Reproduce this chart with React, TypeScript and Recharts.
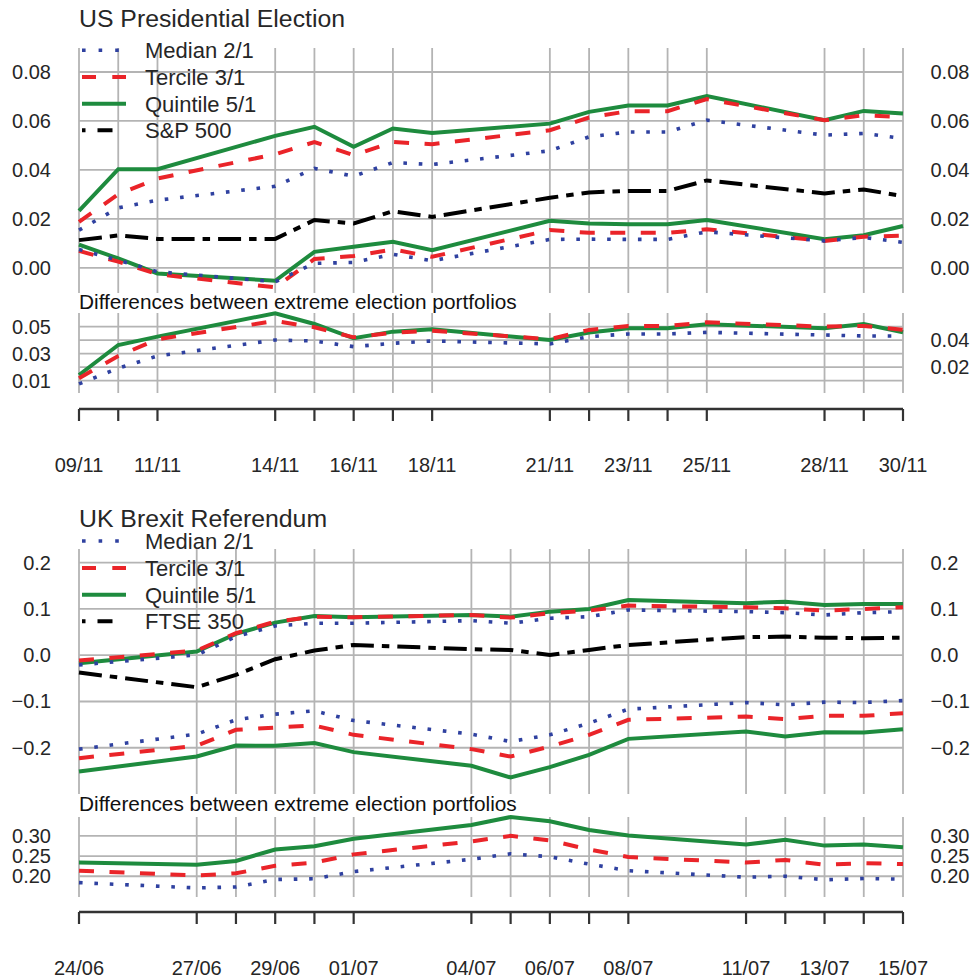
import React from 'react';
import { LineChart, Line, XAxis, YAxis, CartesianGrid } from 'recharts';

const FONT = '"Liberation Sans", Arial, Helvetica, sans-serif';
const TEXT = '#262626';
const GRID = '#b4b4b4';

// ---------- US Presidential Election (Nov 2016) ----------
// x = calendar days after 09/11, one entry per trading session
const usDays = [0, 1, 2, 5, 6, 7, 8, 9, 12, 13, 14, 15, 16, 19, 20, 21];
const usLabelDays = [0, 2, 5, 7, 9, 12, 14, 16, 19, 21];
const usLabels = ['09/11', '11/11', '14/11', '16/11', '18/11', '21/11', '23/11', '25/11', '28/11', '30/11'];

const usMedianHigh = [0.0154, 0.0245, 0.0276, 0.0333, 0.0406, 0.0374, 0.043, 0.0422, 0.0478, 0.0535, 0.0555, 0.0555, 0.0603, 0.0542, 0.0549, 0.0528];
const usMedianLow = [0.0075, 0.0031, -0.0016, -0.0057, 0.0018, 0.0022, 0.0055, 0.0029, 0.0116, 0.0117, 0.0116, 0.0116, 0.0147, 0.011, 0.0124, 0.0104];
const usTercileHigh = [0.0188, 0.03, 0.0365, 0.0464, 0.0514, 0.046, 0.0514, 0.0505, 0.0562, 0.0614, 0.064, 0.064, 0.0689, 0.0603, 0.0623, 0.0616];
const usTercileLow = [0.0069, 0.0025, -0.0026, -0.008, 0.0036, 0.0048, 0.0075, 0.0045, 0.0154, 0.0143, 0.0143, 0.0143, 0.0157, 0.011, 0.0127, 0.0131];
const usQuintileHigh = [0.0233, 0.0403, 0.0403, 0.0539, 0.0576, 0.0494, 0.0569, 0.0551, 0.0589, 0.0637, 0.0663, 0.0663, 0.0702, 0.0603, 0.0641, 0.063];
const usQuintileLow = [0.0095, 0.0038, -0.0023, -0.0053, 0.0065, 0.0086, 0.0106, 0.0072, 0.0192, 0.0181, 0.0178, 0.0178, 0.0195, 0.0117, 0.0133, 0.0171];
const usSP500 = [0.0113, 0.0132, 0.0118, 0.0118, 0.0195, 0.0181, 0.0231, 0.0208, 0.0286, 0.0308, 0.0314, 0.0314, 0.0357, 0.0304, 0.032, 0.0293];

const usDiffMedian = [0.0076, 0.0192, 0.0283, 0.0401, 0.0394, 0.0352, 0.0377, 0.0394, 0.0372, 0.0426, 0.0446, 0.0446, 0.0458, 0.0438, 0.0431, 0.0431];
const usDiffTercile = [0.0118, 0.0283, 0.0407, 0.0542, 0.0495, 0.0421, 0.0456, 0.047, 0.0407, 0.0476, 0.0505, 0.0505, 0.0532, 0.05, 0.0505, 0.0476];
const usDiffQuintile = [0.0142, 0.0364, 0.0426, 0.0599, 0.052, 0.0414, 0.0463, 0.048, 0.0401, 0.0456, 0.0488, 0.0488, 0.0518, 0.0488, 0.052, 0.0458];

const usMainTicks = [0, 0.02, 0.04, 0.06, 0.08];
const usDiffLeftTicks = [0.01, 0.03, 0.05];
const usDiffRightTicks = [0.02, 0.04];
const usDiffGrid = [0.01, 0.02, 0.03, 0.04, 0.05];

// ---------- UK Brexit Referendum (Jun/Jul 2016) ----------
// x = calendar days after 24/06
const ukDays = [0, 3, 4, 5, 6, 7, 10, 11, 12, 13, 14, 17, 18, 19, 20, 21];
const ukLabelDays = [0, 3, 5, 7, 10, 12, 14, 17, 19, 21];
const ukLabels = ['24/06', '27/06', '29/06', '01/07', '04/07', '06/07', '08/07', '11/07', '13/07', '15/07'];

const ukMedianHigh = [-0.021, 0.0006, 0.0402, 0.0633, 0.0691, 0.0691, 0.0748, 0.0691, 0.0799, 0.0834, 0.0978, 0.0942, 0.092, 0.087, 0.092, 0.0942];
const ukMedianLow = [-0.203, -0.1706, -0.1397, -0.1274, -0.1203, -0.1412, -0.1706, -0.1866, -0.1721, -0.1469, -0.1166, -0.1023, -0.1073, -0.1015, -0.1023, -0.098];
const ukTercileHigh = [-0.0116, 0.01, 0.0475, 0.0726, 0.0834, 0.082, 0.087, 0.0813, 0.0907, 0.0964, 0.1072, 0.1036, 0.1015, 0.0964, 0.1, 0.1036];
const ukTercileLow = [-0.2225, -0.1959, -0.1613, -0.1564, -0.152, -0.1721, -0.203, -0.219, -0.1974, -0.1721, -0.1397, -0.1326, -0.1382, -0.1311, -0.1311, -0.1253];
const ukQuintileHigh = [-0.0173, 0.0078, 0.046, 0.0704, 0.0849, 0.082, 0.087, 0.0834, 0.0942, 0.1, 0.1194, 0.1123, 0.1158, 0.1086, 0.1108, 0.1108];
const ukQuintileLow = [-0.2514, -0.219, -0.1952, -0.1959, -0.19, -0.2095, -0.2391, -0.2643, -0.2419, -0.2153, -0.1808, -0.165, -0.1758, -0.1663, -0.1672, -0.1598];
const ukFTSE350 = [-0.0375, -0.0691, -0.0425, -0.0086, 0.01, 0.0222, 0.013, 0.0114, 0.0006, 0.0114, 0.0222, 0.0389, 0.0402, 0.038, 0.0367, 0.038];

const ukDiffMedian = [0.1841, 0.1711, 0.1734, 0.192, 0.1937, 0.2114, 0.242, 0.2556, 0.2483, 0.23, 0.2138, 0.1976, 0.2, 0.1913, 0.1944, 0.1928];
const ukDiffTercile = [0.2138, 0.2017, 0.2072, 0.2258, 0.2338, 0.2541, 0.2862, 0.3, 0.2886, 0.2662, 0.2476, 0.2338, 0.2403, 0.2283, 0.2324, 0.23];
const ukDiffQuintile = [0.2338, 0.2283, 0.2379, 0.2662, 0.2742, 0.2928, 0.3266, 0.3466, 0.3362, 0.3145, 0.3007, 0.2783, 0.2903, 0.2758, 0.2783, 0.2717];

const ukMainTicks = [-0.2, -0.1, 0, 0.1, 0.2];
const ukDiffTicks = [0.2, 0.25, 0.3];

// ---------- line styles ----------
type Style = { stroke: string; width: number; dash?: string; legendDash?: string };
const MEDIAN: Style = { stroke: '#2f41a0', width: 3.6, dash: '3.6 11.8', legendDash: '3.6 13' };
const TERCILE: Style = { stroke: '#ea2429', width: 4, dash: '15 15.5', legendDash: '14 16.3' };
const QUINTILE: Style = { stroke: '#1e8b3e', width: 4 };
const INDEX: Style = { stroke: '#000000', width: 4, dash: '23 8 7.5 8', legendDash: '3.5 12 15 100' };

const build = (days: number[], cols: Record<string, number[]>) =>
  days.map((d, i) => {
    const row: Record<string, number> = { day: d };
    Object.keys(cols).forEach((k) => {
      row[k] = cols[k][i];
    });
    return row;
  });

const usMainData = build(usDays, {
  mh: usMedianHigh, ml: usMedianLow, th: usTercileHigh, tl: usTercileLow,
  qh: usQuintileHigh, ql: usQuintileLow, idx: usSP500,
});
const usDiffData = build(usDays, { m: usDiffMedian, t: usDiffTercile, q: usDiffQuintile });
const ukMainData = build(ukDays, {
  mh: ukMedianHigh, ml: ukMedianLow, th: ukTercileHigh, tl: ukTercileLow,
  qh: ukQuintileHigh, ql: ukQuintileLow, idx: ukFTSE350,
});
const ukDiffData = build(ukDays, { m: ukDiffMedian, t: ukDiffTercile, q: ukDiffQuintile });

// drawing order: quintile underneath, then tercile, median, index on top
const mainSeries: [string, Style][] = [
  ['qh', QUINTILE], ['ql', QUINTILE], ['th', TERCILE], ['tl', TERCILE],
  ['mh', MEDIAN], ['ml', MEDIAN], ['idx', INDEX],
];
const diffSeries: [string, Style][] = [['q', QUINTILE], ['t', TERCILE], ['m', MEDIAN]];

const fmtNum = (digits: number) => (v: number) => {
  const s = Math.abs(v).toFixed(digits);
  return v < -1e-9 ? '\u2212' + s : s;
};

const makeTick = (x: number, anchor: 'start' | 'end', fmt: (v: number) => string) =>
  (props: any) => (
    <text
      x={x}
      y={props.y + 7}
      textAnchor={anchor}
      fontSize={20}
      fontFamily={FONT}
      fill={TEXT}
    >
      {fmt(props.payload.value)}
    </text>
  );

const LEFT_W = 79;
const RIGHT_W = 70;
const WIDTH = 973;

type PanelProps = {
  top: number;
  height: number;
  plotTop: number;
  data: Record<string, number>[];
  days: number[];
  series: [string, Style][];
  domain: [number, number];
  leftTicks: number[];
  rightTicks: number[];
  gridValues: number[];
  digits: number;
};

function Panel(p: PanelProps) {
  const fmt = fmtNum(p.digits);
  return (
    <div style={{ position: 'absolute', left: 0, top: p.top }}>
      <LineChart width={WIDTH} height={p.height} data={p.data} margin={{ top: p.plotTop, right: 0, bottom: 0, left: 0 }}>
        <CartesianGrid
          stroke={GRID}
          strokeWidth={1.8}
          horizontalValues={p.gridValues}
          verticalValues={p.days}
        />
        <XAxis dataKey="day" type="number" domain={[0, 21]} ticks={p.days} interval={0} hide />
        <YAxis
          type="number"
          domain={p.domain}
          ticks={p.leftTicks}
          interval={0}
          width={LEFT_W}
          tickLine={false}
          axisLine={false}
          tick={makeTick(51, 'end', fmt)}
        />
        <YAxis
          yAxisId="r"
          orientation="right"
          type="number"
          domain={p.domain}
          ticks={p.rightTicks}
          interval={0}
          width={RIGHT_W}
          tickLine={false}
          axisLine={false}
          tick={makeTick(930.5, 'start', fmt)}
        />
        {/* invisible twin of the first series so the right-hand scale is active */}
        <Line
          yAxisId="r"
          type="linear"
          dataKey={p.series[0][0]}
          stroke="none"
          dot={false}
          activeDot={false}
          legendType="none"
          isAnimationActive={false}
        />
        {p.series.map(([key, st]) => (
          <Line
            key={key}
            type="linear"
            dataKey={key}
            stroke={st.stroke}
            strokeWidth={st.width}
            strokeDasharray={st.dash}
            dot={false}
            activeDot={false}
            isAnimationActive={false}
          />
        ))}
      </LineChart>
    </div>
  );
}

type StripProps = { top: number; days: number[]; labelDays: number[]; labels: string[]; labelY: number };

// date axis drawn beneath each difference panel
function DateStrip(p: StripProps) {
  const height = 82;
  const DateTick = (props: any) => {
    const idx = p.labelDays.indexOf(props.payload.value);
    if (idx < 0) return <g />;
    return (
      <text x={props.x} y={p.labelY} textAnchor="middle" fontSize={20} fontFamily={FONT} fill={TEXT}>
        {p.labels[idx]}
      </text>
    );
  };
  const data = p.days.map((d) => ({ day: d, v: 0 }));
  return (
    <div style={{ position: 'absolute', left: 0, top: p.top }}>
      <LineChart width={WIDTH} height={height} data={data} margin={{ top: 12, right: RIGHT_W, bottom: 0, left: LEFT_W }}>
        <XAxis
          dataKey="day"
          type="number"
          domain={[0, 21]}
          ticks={p.days}
          interval={0}
          height={height - 14}
          tickSize={12}
          tickLine={{ stroke: '#333333', strokeWidth: 2.2 }}
          axisLine={{ stroke: '#333333', strokeWidth: 2.6 }}
          tick={DateTick}
        />
        <YAxis hide domain={[-1, 1]} />
        <Line dataKey="v" stroke="none" dot={false} activeDot={false} isAnimationActive={false} />
      </LineChart>
    </div>
  );
}

const legendRows: [string, Style][] = [
  ['Median 2/1', MEDIAN],
  ['Tercile 3/1', TERCILE],
  ['Quintile 5/1', QUINTILE],
];

function Legend({ baselines, indexName }: { baselines: number[]; indexName: string }) {
  const rows: [string, Style][] = [...legendRows, [indexName, INDEX]];
  return (
    <g>
      {rows.map(([name, st], i) => {
        const y = baselines[i] - 8;
        return (
          <g key={name}>
            <line
              x1={82}
              x2={126}
              y1={y}
              y2={y}
              stroke={st.stroke}
              strokeWidth={st.width}
              strokeDasharray={st.legendDash}
            />
            <text x={145} y={baselines[i]} fontSize={22} fontFamily={FONT} fill={TEXT}>
              {name}
            </text>
          </g>
        );
      })}
    </g>
  );
}

export default function App() {
  return (
    <div
      style={{
        position: 'absolute',
        left: 0,
        top: 0,
        width: WIDTH,
        height: 979,
        overflow: 'hidden',
        background: '#ffffff',
      }}
    >
      <Panel
        top={0}
        height={293}
        plotTop={48}
        data={usMainData}
        days={usDays}
        series={mainSeries}
        domain={[-0.0103, 0.0898]}
        leftTicks={usMainTicks}
        rightTicks={usMainTicks}
        gridValues={usMainTicks}
        digits={2}
      />
      <Panel
        top={300}
        height={93}
        plotTop={13}
        data={usDiffData}
        days={usDays}
        series={diffSeries}
        domain={[0.0009, 0.0601]}
        leftTicks={usDiffLeftTicks}
        rightTicks={usDiffRightTicks}
        gridValues={usDiffGrid}
        digits={2}
      />
      <DateStrip top={395} days={usDays} labelDays={usLabelDays} labels={usLabels} labelY={77} />

      <Panel
        top={500}
        height={294}
        plotTop={49}
        data={ukMainData}
        days={ukDays}
        series={mainSeries}
        domain={[-0.3, 0.2296]}
        leftTicks={ukMainTicks}
        rightTicks={ukMainTicks}
        gridValues={ukMainTicks}
        digits={1}
      />
      <Panel
        top={800}
        height={97}
        plotTop={17}
        data={ukDiffData}
        days={ukDays}
        series={diffSeries}
        domain={[0.1486, 0.3422]}
        leftTicks={ukDiffTicks}
        rightTicks={ukDiffTicks}
        gridValues={ukDiffTicks}
        digits={2}
      />
      <DateStrip top={898} days={ukDays} labelDays={ukLabelDays} labels={ukLabels} labelY={76.5} />

      <svg
        width={WIDTH}
        height={979}
        style={{ position: 'absolute', left: 0, top: 0, pointerEvents: 'none' }}
      >
        <text x={79} y={27} fontSize={24.8} fontFamily={FONT} fill={TEXT}>US Presidential Election</text>
        <Legend baselines={[58.3, 85, 111.7, 138.3]} indexName="S&P 500" />
        <text x={79} y={308.5} fontSize={20.8} fontFamily={FONT} fill="#111111">
          Differences between extreme election portfolios
        </text>

        <text x={79} y={527} fontSize={24.8} fontFamily={FONT} fill={TEXT}>UK Brexit Referendum</text>
        <Legend baselines={[549, 576, 602.7, 629.3]} indexName="FTSE 350" />
        <text x={79} y={811} fontSize={20.8} fontFamily={FONT} fill="#111111">
          Differences between extreme election portfolios
        </text>
      </svg>
    </div>
  );
}
